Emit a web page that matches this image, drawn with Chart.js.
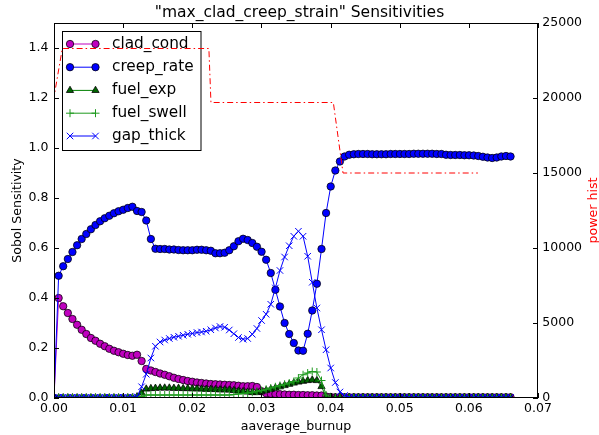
<!DOCTYPE html>
<html><head><meta charset="utf-8">
<script src="https://cdn.jsdelivr.net/npm/chart.js@4/dist/chart.umd.min.js"></script>
<style>html,body{margin:0;padding:0;background:#fff;overflow:hidden}</style>
</head><body>
<canvas id="c" width="599" height="435" style="display:block;width:599px;height:435px"></canvas>
<script>
const burnup = [
0, 0.00067, 0.00133, 0.00200, 0.00267, 0.00334, 0.00400, 0.00467, 0.00534, 0.00600,
0.00667, 0.00734, 0.00800, 0.00867, 0.00934, 0.01001, 0.01067, 0.01134, 0.01201, 0.01267,
0.01334, 0.01401, 0.01467, 0.01534, 0.01601, 0.01668, 0.01734, 0.01801, 0.01868, 0.01934,
0.02001, 0.02068, 0.02134, 0.02201, 0.02268, 0.02335, 0.02401, 0.02468, 0.02535, 0.02601,
0.02668, 0.02735, 0.02801, 0.02868, 0.02935, 0.03002, 0.03068, 0.03135, 0.03202, 0.03268,
0.03335, 0.03402, 0.03468, 0.03535, 0.03602, 0.03669, 0.03735, 0.03802, 0.03869, 0.03935,
0.04002, 0.04069, 0.04135, 0.04202, 0.04269, 0.04336, 0.04402, 0.04469, 0.04536, 0.04602,
0.04669, 0.04736, 0.04802, 0.04869, 0.04936, 0.05003, 0.05069, 0.05136, 0.05203, 0.05269,
0.05336, 0.05403, 0.05469, 0.05536, 0.05603, 0.05670, 0.05736, 0.05803, 0.05870, 0.05936,
0.06003, 0.06070, 0.06136, 0.06203, 0.06270, 0.06337, 0.06403, 0.06470, 0.06537, 0.06603];

const cladCond = [0,
.400,.367,.340,.316,.293,.273,.256,.240,.229,.217,
.207,.197,.189,.183,.177,.172,.169,.173,.148,.116,
.110,.104,.098,.093,.087,.081,.076,.072,.068,.065,
.062,.060,.058,.056,.055,.054,.053,.052,.051,.049,
.047,.047,.048,.044,.027,.019,.017,.016,.015,.014,
.013,.013,.012,.012,.011,.011,.010,.010,.006,.004,
.003,.003,.003,.003,.003,.003,.003,.003,.003,.003,
.003,.003,.003,.003,.003,.003,.003,.003,.003,.003,
.003,.003,.003,.003,.003,.003,.003,.003,.003,.003,
.003,.003,.003,.003,.003,.003,.003,.003,.003];

const creepRate = [0,
.489,.527,.556,.584,.611,.636,.656,.675,.692,.707,
.719,.729,.739,.747,.753,.760,.765,.748,.744,.710,
.636,.597,.596,.596,.594,.594,.592,.591,.591,.591,
.593,.593,.591,.589,.579,.579,.581,.591,.607,.627,
.637,.632,.620,.605,.585,.553,.500,.433,.366,.300,
.256,.220,.190,.189,.257,.350,.457,.596,.740,.846,
.910,.946,.966,.973,.975,.976,.976,.976,.975,.975,
.975,.975,.976,.976,.976,.976,.976,.977,.977,.977,
.977,.977,.976,.976,.973,.972,.972,.972,.971,.971,
.970,.968,.965,.962,.960,.962,.966,.968,.966];

const fuelExp = [0,
.001,.001,.001,.001,.001,.001,.001,.001,.001,.001,
.001,.001,.001,.001,.001,.001,.001,.005,.020,.036,
.038,.039,.040,.040,.040,.039,.039,.038,.038,.037,
.037,.036,.035,.035,.034,.033,.033,.032,.030,.028,
.026,.024,.022,.022,.025,.030,.035,.040,.045,.050,
.055,.060,.064,.067,.070,.072,.070,.046,.004,.002,
.002,.002,.002,.002,.002,.002,.002,.002,.002,.002,
.002,.002,.002,.002,.002,.002,.002,.002,.002,.002,
.002,.002,.002,.002,.002,.002,.002,.002,.002,.002,
.002,.002,.002,.002,.002,.002,.002,.002,.002];

const fuelSwell = [0,
.001,.001,.001,.001,.001,.001,.001,.001,.001,.001,
.001,.001,.001,.001,.001,.001,.001,.001,.006,.012,
.012,.012,.012,.012,.012,.012,.012,.012,.012,.012,
.012,.012,.012,.012,.012,.012,.012,.012,.014,.016,
.018,.020,.023,.027,.030,.035,.040,.045,.050,.055,
.060,.066,.080,.093,.100,.106,.104,.070,.012,.002,
.001,.001,.001,.001,.001,.001,.001,.001,.001,.001,
.001,.001,.001,.001,.001,.001,.001,.001,.001,.001,
.001,.001,.001,.001,.001,.001,.001,.001,.001,.001,
.001,.001,.001,.001,.001,.001,.001,.001,.001];

const gapThick = [0,
.003,.003,.003,.003,.003,.003,.003,.003,.003,.003,
.003,.003,.003,.003,.003,.003,.003,.005,.045,.095,
.160,.207,.224,.232,.238,.243,.247,.251,.255,.258,
.262,.264,.267,.273,.280,.286,.283,.272,.257,.242,
.235,.238,.255,.278,.310,.335,.375,.440,.510,.564,
.609,.647,.667,.647,.567,.463,.360,.273,.193,.120,
.062,.024,.010,.003,.003,.003,.003,.003,.003,.003,
.003,.003,.003,.003,.003,.003,.003,.003,.003,.003,
.003,.003,.003,.003,.003,.003,.003,.003,.003,.003,
.003,.003,.003,.003,.003,.003,.003,.003,.003];

const powerBurnup = [0, 0.00005, 0.0012, 0.0224, 0.0227, 0.0404, 0.0418, 0.0613];
const powerHist   = [0, 20200, 23300, 23300, 19700, 19700, 15000, 15000];

const xTicks  = [0, 0.01, 0.02, 0.03, 0.04, 0.05, 0.06, 0.07];
const yTicks  = [0, 0.2, 0.4, 0.6, 0.8, 1.0, 1.2, 1.4];
const y2Ticks = [0, 5000, 10000, 15000, 20000, 25000];

const FONT = "'DejaVu Sans', 'Bitstream Vera Sans', sans-serif";
Chart.defaults.font.family = FONT;
Chart.defaults.color = '#000';

function pts(xs, ys) { return xs.map((x, i) => ({x: x, y: ys[i]})); }

function series(label, ys, line, fill, edge, style, radius, bw, order) {
  return {
    label: label, data: pts(burnup, ys), borderColor: line, borderWidth: 1,
    backgroundColor: fill, pointBackgroundColor: fill, pointBorderColor: edge,
    pointBorderWidth: bw, pointStyle: style, pointRadius: radius, pointHoverRadius: radius,
    tension: 0, fill: false, order: order, yAxisID: 'y'
  };
}

const datasets = [
  series('clad_cond',  cladCond,  '#bf00bf', '#bf00bf', '#000', 'circle',   3.7, 0.75, 0),
  series('creep_rate', creepRate, '#0000ff', '#0000ff', '#000', 'circle',   3.7, 0.75, -1),
  series('fuel_exp',   fuelExp,   '#008000', '#006400', '#000', 'triangle', 4.2, 0.75, -2),
  series('fuel_swell', fuelSwell, '#1f9a1f', '#1f9a1f', '#1f9a1f', 'cross', 4.0, 1, -3),
  series('gap_thick',  gapThick,  '#0000ff', '#0000ff', '#0000ff', 'crossRot', 4.6, 1, -4),
  {
    label: 'power hist', data: pts(powerBurnup, powerHist), yAxisID: 'y2',
    borderColor: '#ff0000', borderWidth: 1, borderDash: [6, 3, 1.5, 3],
    pointRadius: 0, pointHoverRadius: 0, tension: 0, fill: false, order: -10
  }
];

function drawLegend(chart) {
  const ctx = chart.ctx;
  ctx.save();
  const L = 62, T = 31, R = 201.5, B = 151;
  ctx.fillStyle = '#fff';
  ctx.fillRect(L, T, R - L, B - T);
  ctx.strokeStyle = '#000'; ctx.lineWidth = 1;
  ctx.strokeRect(L + 0.5, T + 0.5, R - L - 1, B - T - 1);
  const rows = [44, 67.2, 90.4, 113.2, 136];
  for (let k = 0; k < 5; k++) {
    const ds = datasets[k], y = rows[k], x1 = 70, x2 = 95.5;
    ctx.setLineDash([]);
    ctx.strokeStyle = ds.borderColor; ctx.lineWidth = 1;
    ctx.beginPath(); ctx.moveTo(x1, y); ctx.lineTo(x2, y); ctx.stroke();
    [x1, x2].forEach(px => {
      ctx.fillStyle = ds.pointBackgroundColor;
      ctx.strokeStyle = ds.pointBorderColor;
      ctx.lineWidth = ds.pointBorderWidth;
      if (Chart.helpers && Chart.helpers.drawPoint) {
        Chart.helpers.drawPoint(ctx, {pointStyle: ds.pointStyle, radius: ds.pointRadius, borderWidth: ds.pointBorderWidth, rotation: 0}, px, y);
      } else {
        ctx.beginPath(); ctx.arc(px, y, ds.pointRadius, 0, Math.PI * 2); ctx.fill(); ctx.stroke();
      }
    });
    ctx.fillStyle = '#000';
    ctx.font = '15.3px ' + FONT;
    ctx.textAlign = 'left'; ctx.textBaseline = 'middle';
    ctx.fillText(ds.label, 112, y);
  }
  ctx.restore();
}

const decor = {
  id: 'decor',
  beforeDatasetDraw(chart, args) {
    if (args.index === 5) drawLegend(chart);
  },
  afterDraw(chart) {
    const {ctx, chartArea: a, scales} = chart;
    ctx.save();
    ctx.strokeStyle = '#000'; ctx.lineWidth = 1; ctx.setLineDash([]);
    const TL = 5;
    ctx.beginPath();
    scales.x.ticks.forEach(t => {
      const px = Math.round(scales.x.getPixelForValue(t.value)) + 0.5;
      ctx.moveTo(px, a.bottom); ctx.lineTo(px, a.bottom - TL);
      ctx.moveTo(px, a.top); ctx.lineTo(px, a.top + TL);
    });
    scales.y.ticks.forEach(t => {
      const py = Math.round(scales.y.getPixelForValue(t.value)) + 0.5;
      ctx.moveTo(a.left, py); ctx.lineTo(a.left + TL, py);
    });
    scales.y2.ticks.forEach(t => {
      const py = Math.round(scales.y2.getPixelForValue(t.value)) + 0.5;
      ctx.moveTo(a.right, py); ctx.lineTo(a.right - TL, py);
    });
    ctx.stroke();
    ctx.strokeRect(Math.round(a.left) + 0.5, Math.round(a.top) + 0.5,
                   Math.round(a.right - a.left) - 1, Math.round(a.bottom - a.top) - 1);
    // right axis title, rotated counter-clockwise like the original
    ctx.translate(594, (a.top + a.bottom) / 2);
    ctx.rotate(-Math.PI / 2);
    ctx.fillStyle = '#ff0000';
    ctx.font = '12.6px ' + FONT;
    ctx.textAlign = 'center'; ctx.textBaseline = 'middle';
    ctx.fillText('power hist', 0, 0);
    ctx.restore();
  }
};

const tickFont = {size: 12.5, family: FONT};

new Chart(document.getElementById('c'), {
  type: 'line',
  data: {datasets: datasets},
  options: {
    responsive: false, animation: false, devicePixelRatio: 1,
    layout: {padding: 0},
    events: [],
    plugins: {
      legend: {display: false},
      tooltip: {enabled: false},
      title: {
        display: true, text: '"max_clad_creep_strain" Sensitivities',
        font: {size: 15.5, weight: 'normal', family: FONT, lineHeight: 1.2},
        color: '#000', padding: {top: 3.6, bottom: 0.8}
      }
    },
    scales: {
      x: {
        type: 'linear', position: 'bottom', min: 0, max: 0.07,
        afterBuildTicks: s => { s.ticks = xTicks.map(v => ({value: v})); },
        afterFit: s => { s.height = 37; },
        grid: {display: false, drawTicks: false, tickLength: 0},
        border: {display: false},
        ticks: {font: tickFont, color: '#000', padding: 3, autoSkip: false, maxRotation: 0,
                callback: v => v.toFixed(2)},
        title: {display: true, text: 'aaverage_burnup', color: '#000',
                font: {size: 12.6, family: FONT}, padding: {top: 0, bottom: 1.1}}
      },
      y: {
        type: 'linear', position: 'left', min: 0, max: 1.5,
        afterBuildTicks: s => { s.ticks = yTicks.map(v => ({value: v})); },
        afterFit: s => { s.width = 54; },
        grid: {display: false, drawTicks: false, tickLength: 0},
        border: {display: false},
        ticks: {font: tickFont, color: '#000', padding: 5.5, callback: v => v.toFixed(1)},
        title: {display: true, text: 'Sobol Sensitivity', color: '#000',
                font: {size: 12.6, family: FONT}, padding: {top: 9.7, bottom: 0}}
      },
      y2: {
        type: 'linear', position: 'right', min: 0, max: 25000,
        afterBuildTicks: s => { s.ticks = y2Ticks.map(v => ({value: v})); },
        afterFit: s => { s.width = 61; },
        grid: {display: false, drawTicks: false, tickLength: 0},
        border: {display: false},
        ticks: {font: tickFont, color: '#000', padding: 4.3, callback: v => String(v)}
      }
    }
  },
  plugins: [decor]
});
</script>
</body></html>
